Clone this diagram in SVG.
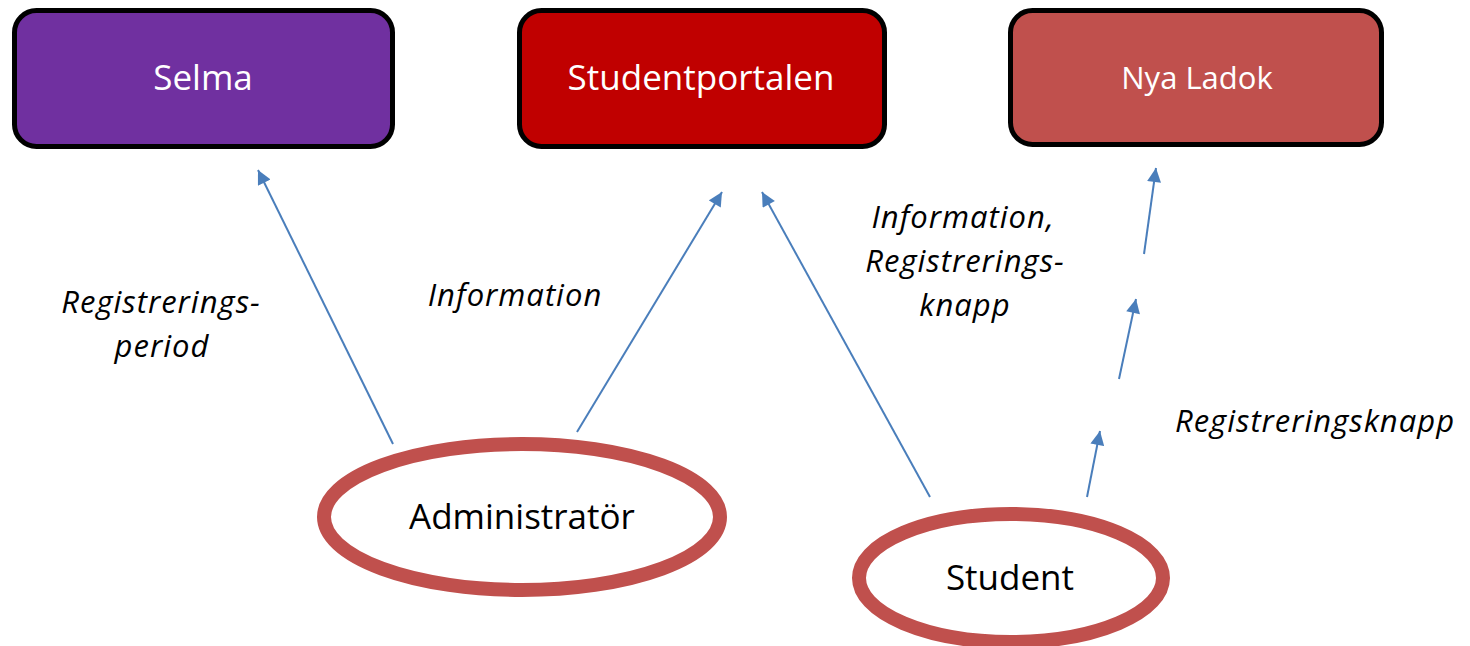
<svg xmlns="http://www.w3.org/2000/svg" width="1470" height="646" viewBox="0 0 1470 646">
<defs>
<marker id="ah" viewBox="0 0 10 10" refX="10" refY="5" markerWidth="7.5" markerHeight="7" markerUnits="strokeWidth" orient="auto">
<path d="M0,0 L10,5 L0,10 z" fill="#4a7ebb"/>
</marker>
<style>
.box{stroke:#000;stroke-width:5}
.boxt{font-family:"Open Sans",sans-serif;fill:#fff;text-anchor:middle}
.actor{fill:#fff;stroke:#c0504d;stroke-width:14}
.actt{font-family:"Open Sans",sans-serif;fill:#000;text-anchor:middle;font-size:35px}
.lbl{font-family:"Open Sans",sans-serif;font-style:italic;font-size:31px;letter-spacing:1px;fill:#000;text-anchor:middle}
.con{stroke:#4a7ebb;stroke-width:2;fill:none;marker-end:url(#ah)}
</style>
</defs>
<rect width="1470" height="646" fill="#fff"/>
<g id="selma">
<rect class="box" x="14.5" y="10.5" width="378" height="136" rx="22" fill="#7030a0"/>
<text class="boxt" x="203" y="90" font-size="35">Selma</text>
</g>
<g id="studentportalen">
<rect class="box" x="519.5" y="10.5" width="365" height="136" rx="22" fill="#c00000"/>
<text class="boxt" x="701" y="90" font-size="35">Studentportalen</text>
</g>
<g id="nyaladok">
<rect class="box" x="1010.5" y="10.5" width="371" height="134" rx="22" fill="#c0504d"/>
<text class="boxt" x="1197" y="89" font-size="31">Nya Ladok</text>
</g>
<g id="administrator">
<ellipse class="actor" cx="522" cy="517" rx="198" ry="73"/>
<text class="actt" x="522" y="529">Administratör</text>
</g>
<g id="student">
<ellipse class="actor" cx="1011" cy="578" rx="152" ry="64"/>
<text class="actt" x="1010" y="590">Student</text>
</g>
<g id="connectors">
<line class="con" x1="393" y1="444" x2="258" y2="170"/>
<line class="con" x1="577" y1="432" x2="722" y2="192"/>
<line class="con" x1="930" y1="497" x2="762" y2="192"/>
<line class="con" x1="1087" y1="497" x2="1100" y2="431"/>
<line class="con" x1="1119" y1="379" x2="1136" y2="299"/>
<line class="con" x1="1144" y1="254" x2="1156" y2="168"/>
</g>
<g id="labels">
<text class="lbl" x="161" y="313">Registrerings-</text>
<text class="lbl" x="162" y="357">period</text>
<text class="lbl" x="515" y="306">Information</text>
<text class="lbl" x="963" y="228">Information,</text>
<text class="lbl" x="965" y="272">Registrerings-</text>
<text class="lbl" x="965" y="316">knapp</text>
<text class="lbl" x="1315" y="432">Registreringsknapp</text>
</g>
</svg>
